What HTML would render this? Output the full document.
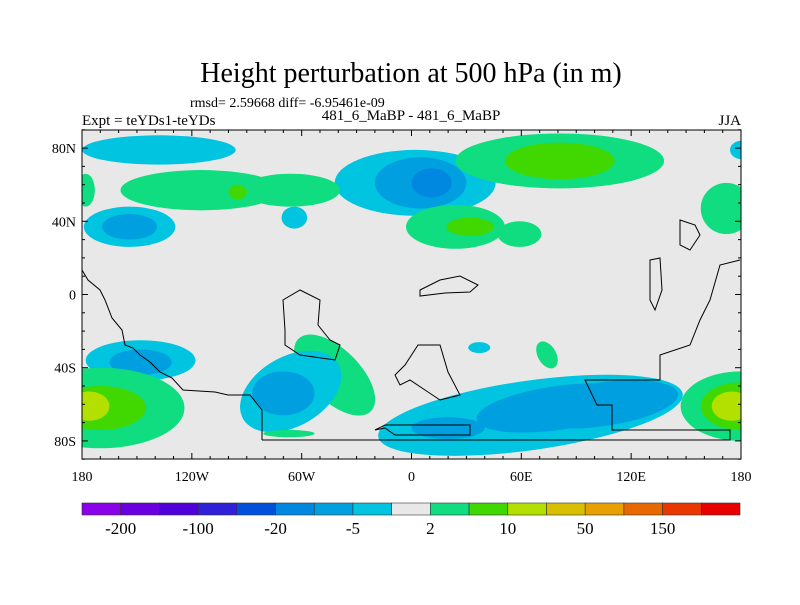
<!DOCTYPE html>
<html><head><meta charset="utf-8"><style>
body{margin:0;background:#fff;}
svg text{font-family:"Liberation Serif",serif;fill:#000;}
</style></head><body>
<svg id="chart" width="800" height="600" xmlns="http://www.w3.org/2000/svg">
<text x="411" y="82" font-size="28" text-anchor="middle">Height perturbation at 500 hPa (in m)</text>
<text x="190" y="107" font-size="14">rmsd= 2.59668 diff= -6.95461e-09</text>
<text x="82" y="125" font-size="15">Expt = teYDs1-teYDs</text>
<text x="411" y="120" font-size="15" text-anchor="middle">481_6_MaBP - 481_6_MaBP</text>
<text x="741" y="125" font-size="15" text-anchor="end">JJA</text>
<defs><clipPath id="mapclip"><rect x="82" y="130" width="659" height="329"/></clipPath></defs>
<rect x="82" y="130" width="659" height="329" fill="#e8e8e8"/>
<g id="blobs" clip-path="url(#mapclip)"></g>
<g id="coast" clip-path="url(#mapclip)" fill="none" stroke="#000" stroke-width="1"></g>
<rect x="82" y="130" width="659" height="329" fill="none" stroke="#000" stroke-width="1"/>
<g id="axes"></g>
<g id="colorbar"></g>
</svg>
<script>
// blob data: lon, lat, radius lon (deg), radius lat (deg), level index (colour), rotation
const blobLon = [-138,180,2,5,11,81,81,-115,-66,-95,-178,-154,-154,-64,24,32,59,172,-148,-148,-42,-66,-70,37,74,65,80,104,20,-170,-170,-176,180,180,175,-67];
const blobLat = [79,79,61,61,61,73,73,57,57,56,57,37,37,42,37,37,33,47,-36,-37,-44,-53,-54,-29,-33,-66,-62,-60,-73,-62,-62,-61,-61,-61,-61,-76];
const blobRx  = [42,6,44,25,11,57,30,44,27,5,5,25,15,7,27,13,12,14,30,17,28,30,17,6,5,84,45,42,20,46,25,11,33,22,11,14];
const blobRy  = [8,5,18,14,8,15,10,11,9,4,9,11,7,6,12,5,7,14,11,7,14,19,12,3,8,19,12,12,6,22,12,8,19,13,8,2];
const blobLvl = [8,8,8,6,5,10,11,10,10,11,10,8,6,8,10,11,10,10,8,6,10,8,6,8,10,8,6,6,6,10,11,12,10,11,12,10];
const blobRot = [0,0,0,0,0,0,0,0,0,0,0,0,0,0,0,0,0,0,0,0,45,-30,0,0,-30,-8,-8,-8,0,0,0,0,0,0,0,0];
const levelColors = ["#8a00e8","#6a00e0","#5000d8","#3020d8","#0050dc","#0088e0","#00a0e0","#00b0e0","#00c4e0","#e8e8e8","#10dc80","#40d800","#b4e000","#d8c000","#e8a000","#e86800","#e83800","#e80000"];
const lonTicks=[-180,-120,-60,0,60,120,180];
const lonLabels=["180","120W","60W","0","60E","120E","180"];
const latTicks=[80,40,0,-40,-80];
const latLabels=["80N","40N","0","40S","80S"];
const cbLabels=["-200","-100","-20","-5","2","10","50","150"];
const NS="http://www.w3.org/2000/svg";
const x=lon=>411.5+lon*1.8305, y=lat=>294.5-lat*1.83;
function mk(t,a,p){const e=document.createElementNS(NS,t);for(const k in a)e.setAttribute(k,a[k]);p.appendChild(e);return e;}
const bg=document.getElementById('blobs');
for(let i=0;i<blobLon.length;i++){
  const e=mk('ellipse',{cx:x(blobLon[i]),cy:y(blobLat[i]),rx:blobRx[i]*1.83,ry:blobRy[i]*1.83,fill:levelColors[blobLvl[i]],transform:`rotate(${blobRot[i]} ${x(blobLon[i])} ${y(blobLat[i])})`},bg);
  
  
}
const coastPaths=["M82,270 L88,280 L100,290 L105,300 L112,318 L122,330 L125,345 L133,348 L140,355 L150,362 L160,372 L172,378 L183,390 L215,392 L228,395 L250,395 L262,410 L262,440",
"M262,440 L730,440 L730,430 L612,430 L612,405 L597,405 L585,380 L660,380 L660,355 L690,345 L700,320 L710,300 L720,265 L740,260",
"M285,330 L283,300 L300,290 L320,300 L318,325 L330,340 L340,345 L335,360 L300,355 L285,345 Z",
"M418,345 L440,345 L448,372 L460,395 L440,400 L425,390 L410,380 L400,385 L395,375 L405,365 Z",
"M375,430 L385,428 L395,435 L470,435 L470,425 L385,425 Z",
"M420,290 L440,280 L460,276 L478,285 L470,292 L445,293 L420,296 Z",
"M650,260 L660,258 L662,290 L655,310 L650,300 Z",
"M680,220 L695,225 L700,235 L690,250 L680,245 Z"];
const cg=document.getElementById('coast');
coastPaths.forEach(d=>{const p=mk('path',{d},cg);});
const ax=document.getElementById('axes');
for(let l=-180;l<=180;l+=10){const len=l%60===0?6:3;mk('line',{x1:x(l),y1:459,x2:x(l),y2:459-len,stroke:'#000'},ax);mk('line',{x1:x(l),y1:130,x2:x(l),y2:130+len,stroke:'#000'},ax);}
for(let l=-90;l<=90;l+=10){const len=l%40===0?6:3;mk('line',{x1:82,y1:y(l),x2:82+len,y2:y(l),stroke:'#000'},ax);mk('line',{x1:741,y1:y(l),x2:741-len,y2:y(l),stroke:'#000'},ax);}
lonTicks.forEach((l,i)=>{const t=mk('text',{x:x(l),y:481,'font-size':14,'text-anchor':'middle'},ax);t.textContent=lonLabels[i];});
latTicks.forEach((l,i)=>{const t=mk('text',{x:76,y:y(l)+5,'font-size':14,'text-anchor':'end'},ax);t.textContent=latLabels[i];});
const cb=document.getElementById('colorbar');
const w=(740-82)/17;
const cbFill=levelColors.filter((c,i)=>i!==7);
for(let i=0;i<17;i++){const r=mk('rect',{x:82+i*w,y:503,width:w,height:12,fill:cbFill[i],stroke:'#333','stroke-width':0.6},cb);}
cbLabels.forEach((s,i)=>{const t=mk('text',{x:82+(2*i+1)*w,y:534,'font-size':17,'text-anchor':'middle'},cb);t.textContent=s;});
</script>
</body></html>
